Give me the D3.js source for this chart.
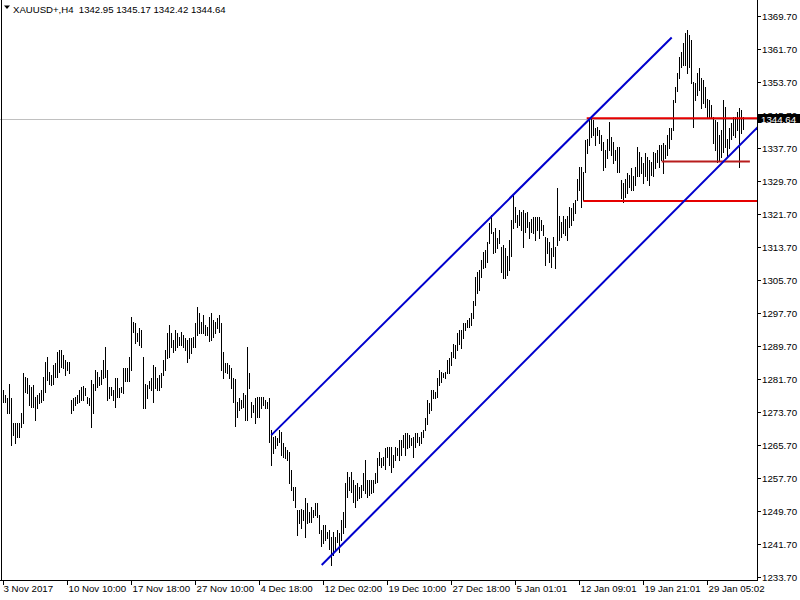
<!DOCTYPE html>
<html><head><meta charset="utf-8">
<script src="https://cdn.jsdelivr.net/npm/d3@7"></script>
<style>
html,body{margin:0;padding:0;background:#fff;}
svg{display:block;}
text{font-family:"Liberation Sans",Arial,sans-serif;}
</style>
</head><body><div id="chart"></div>
<script>
// ---------- data ----------
const symbol = "XAUUSD+,H4";
const lastBar = [1342.95, 1345.17, 1342.42, 1344.64]; // O H L C
const highs = [
1279.0,1277.8,1277.0,1280.6,1277.0,1271.0,1271.0,1271.0,1271.0,1273.4,
1283.1,1282.3,1281.9,1280.2,1279.8,1280.2,1277.4,1277.8,1278.2,1279.0,
1282.3,1285.9,1287.1,1283.5,1282.7,1285.1,1285.5,1288.3,1288.7,1288.7,
1287.5,1286.3,1285.9,1285.9,1276.6,1277.0,1277.4,1277.8,1279.0,1279.8,
1280.0,1279.4,1277.4,1277.0,1281.5,1280.6,1283.9,1283.5,1282.3,1283.9,
1286.3,1289.5,1283.9,1279.8,1279.8,1279.0,1281.9,1281.9,1279.4,1279.8,
1284.3,1284.3,1284.3,1287.1,1296.8,1295.6,1295.2,1292.8,1294.0,1293.6,
1287.1,1280.6,1280.2,1281.1,1281.9,1285.1,1284.7,1281.9,1282.7,1283.1,
1286.3,1288.7,1292.8,1294.8,1292.8,1291.2,1293.6,1292.8,1292.0,1293.2,
1292.4,1291.6,1291.2,1291.6,1291.6,1292.0,1295.2,1299.2,1297.6,1295.6,
1297.2,1294.8,1294.4,1296.8,1297.6,1296.0,1295.6,1296.4,1297.2,1295.2,
1288.3,1285.5,1285.5,1285.1,1284.3,1281.9,1281.6,1276.2,1277.0,1276.6,
1278.2,1277.8,1289.5,1283.1,1276.2,1275.4,1277.0,1277.4,1277.4,1277.4,
1277.4,1276.6,1276.2,1277.0,1269.3,1267.7,1268.0,1267.3,1269.3,1268.9,
1266.1,1265.3,1264.5,1264.1,1259.6,1255.6,1255.6,1249.9,1249.9,1250.3,
1249.9,1252.8,1251.6,1249.5,1250.7,1249.9,1251.6,1251.6,1248.7,1245.1,
1246.3,1246.3,1244.7,1245.1,1243.5,1244.7,1243.5,1245.1,1244.3,1247.5,
1249.5,1256.4,1259.2,1258.0,1259.2,1257.2,1256.0,1256.4,1255.6,1256.0,
1258.8,1262.1,1257.2,1257.2,1257.2,1257.2,1258.8,1262.5,1264.1,1262.5,
1262.9,1264.9,1265.3,1265.3,1265.3,1263.3,1265.3,1264.9,1266.9,1266.9,
1268.1,1268.5,1268.5,1268.1,1267.3,1267.7,1268.5,1268.5,1267.7,1268.9,
1269.3,1272.2,1276.6,1275.8,1279.0,1279.0,1278.6,1281.9,1283.9,1283.5,
1283.1,1283.5,1286.3,1286.7,1288.3,1290.3,1289.9,1292.8,1293.6,1293.6,
1295.2,1295.2,1296.0,1296.4,1297.6,1300.5,1306.5,1307.7,1308.1,1310.5,
1312.6,1313.0,1315.0,1319.4,1321.5,1317.4,1318.2,1315.8,1317.8,1313.8,
1314.2,1313.4,1311.4,1315.4,1320.2,1326.3,1323.5,1321.5,1322.7,1322.3,
1322.7,1321.9,1322.3,1319.8,1320.6,1321.0,1321.0,1321.0,1321.0,1320.2,
1319.0,1316.2,1315.8,1315.0,1313.4,1316.2,1313.8,1327.9,1321.1,1319.8,
1321.1,1320.6,1321.1,1323.5,1323.1,1324.3,1325.1,1330.3,1333.2,1333.2,
1332.0,1339.6,1340.0,1344.5,1345.3,1344.5,1342.5,1342.9,1342.1,1340.8,
1339.2,1337.2,1340.0,1344.1,1340.4,1339.2,1337.2,1338.0,1338.0,1329.9,
1329.1,1330.3,1331.6,1331.2,1332.8,1330.8,1333.2,1338.0,1336.8,1335.6,
1334.0,1336.4,1335.6,1334.8,1334.4,1336.8,1336.4,1337.2,1338.4,1338.4,
1338.8,1338.4,1340.8,1342.5,1342.5,1349.3,1352.6,1355.8,1359.8,1361.0,
1363.1,1365.5,1366.3,1365.1,1363.9,1353.8,1353.4,1355.8,1357.0,1354.6,
1354.2,1352.6,1349.7,1349.3,1348.1,1345.3,1344.5,1344.1,1340.8,1342.1,
1349.3,1347.7,1340.0,1342.5,1343.7,1345.3,1345.3,1346.5,1347.3,1346.9,
1345.17];
const lows = [
1276.2,1276.2,1273.4,1273.4,1265.7,1268.1,1266.1,1267.7,1267.7,1270.1,
1271.0,1278.6,1278.2,1275.4,1275.0,1275.0,1271.8,1274.6,1275.8,1276.2,
1276.6,1278.6,1281.5,1280.6,1280.2,1280.6,1282.3,1282.3,1283.5,1284.7,
1284.3,1282.7,1283.9,1283.1,1273.4,1274.2,1275.4,1275.8,1276.2,1276.6,
1276.6,1277.8,1275.8,1275.4,1270.1,1273.4,1279.0,1279.8,1280.2,1280.6,
1281.9,1282.3,1276.6,1277.0,1277.8,1276.6,1275.0,1277.4,1277.4,1278.6,
1278.2,1281.1,1281.1,1281.1,1283.9,1293.2,1290.4,1290.8,1289.9,1289.5,
1274.6,1274.6,1277.0,1279.4,1279.0,1276.2,1279.4,1279.0,1279.0,1279.8,
1282.7,1283.9,1286.7,1287.1,1289.5,1288.3,1288.7,1289.5,1289.9,1289.9,
1289.5,1288.7,1285.9,1286.7,1287.9,1289.5,1289.5,1292.4,1292.8,1292.8,
1292.8,1292.4,1292.4,1290.8,1291.2,1292.0,1292.8,1294.0,1293.2,1283.9,
1281.9,1283.5,1283.1,1281.9,1279.4,1276.2,1270.3,1272.6,1274.2,1274.6,
1275.0,1271.8,1271.8,1279.4,1272.6,1273.8,1271.0,1272.6,1272.6,1274.6,
1275.4,1274.6,1274.6,1266.5,1260.9,1263.7,1265.0,1265.7,1266.5,1263.3,
1262.9,1262.5,1262.1,1256.4,1254.8,1252.4,1250.7,1243.9,1246.7,1245.5,
1247.5,1243.5,1246.7,1247.1,1247.1,1248.3,1248.7,1248.3,1244.3,1241.1,
1241.9,1242.7,1243.1,1240.6,1236.6,1239.0,1240.6,1242.3,1239.8,1242.7,
1244.3,1245.9,1253.2,1254.8,1254.4,1252.0,1250.7,1252.4,1252.8,1253.2,
1254.8,1254.0,1253.2,1253.6,1254.0,1254.4,1256.4,1256.8,1260.9,1260.4,
1260.9,1260.0,1262.9,1260.9,1259.2,1260.4,1262.1,1263.3,1262.1,1263.3,
1265.3,1263.3,1264.9,1265.3,1265.7,1262.9,1265.3,1266.5,1265.7,1266.1,
1267.7,1269.3,1270.9,1273.4,1274.2,1277.0,1277.0,1277.4,1280.2,1281.0,
1282.3,1281.9,1283.1,1283.1,1285.1,1287.1,1286.7,1288.7,1290.3,1289.1,
1291.6,1293.6,1294.4,1294.4,1294.8,1296.4,1299.6,1302.5,1303.3,1306.5,
1308.5,1308.9,1310.1,1314.6,1317.0,1312.2,1312.6,1313.4,1314.6,1307.7,
1306.1,1306.1,1306.9,1308.1,1311.4,1318.2,1319.8,1318.6,1319.0,1317.8,
1313.8,1317.4,1318.6,1315.8,1317.4,1317.0,1315.4,1317.8,1315.8,1317.8,
1316.6,1309.3,1312.2,1310.1,1308.9,1311.4,1308.5,1314.2,1315.4,1316.2,
1317.0,1316.6,1315.4,1318.6,1319.0,1320.2,1321.9,1325.1,1327.5,1323.5,
1325.1,1332.0,1336.4,1338.4,1340.4,1340.8,1338.4,1340.8,1338.8,1337.2,
1332.4,1333.2,1335.2,1337.2,1336.0,1334.0,1334.8,1332.0,1332.0,1325.5,
1324.7,1325.9,1326.7,1328.3,1327.5,1327.5,1328.7,1330.8,1330.8,1331.6,
1329.1,1330.8,1330.0,1328.7,1331.2,1330.8,1332.8,1334.4,1333.2,1334.8,
1331.6,1335.2,1336.0,1337.6,1340.0,1342.1,1348.9,1351.4,1354.6,1357.4,
1357.8,1357.8,1355.8,1357.4,1353.4,1342.9,1349.3,1350.5,1351.8,1347.3,
1348.5,1347.7,1345.3,1345.3,1345.3,1338.8,1337.2,1334.4,1334.8,1335.6,
1336.8,1338.0,1335.6,1337.6,1340.0,1340.8,1340.4,1342.1,1333.2,1341.3,
1342.42];
const priceTicks = [1233.70,1241.70,1249.70,1257.70,1265.70,1273.70,1281.70,1289.70,
  1297.70,1305.70,1313.70,1321.70,1329.70,1337.70,1345.70,1353.70,1361.70,1369.70];
const timeLabels = ["3 Nov 2017","10 Nov 10:00","17 Nov 18:00","27 Nov 10:00","4 Dec 18:00",
  "12 Dec 02:00","19 Dec 10:00","27 Dec 18:00","5 Jan 01:01","12 Jan 09:01","19 Jan 21:01","29 Jan 05:02"];
const timeLabelBars = [0,32,64,96,128,160,192,224,256,288,320,352];
// trend channel: [barIndex, price]
const channelUpper = [[134.3,1268.1],[334.5,1364.5]];
const channelLower = [[159.5,1236.6],[377.8,1342.9]];
// horizontal levels: price, start bar, end bar (null = to right edge)
const levelPrices = [1344.9, 1334.4, 1324.85];
const levelStart  = [292, 329.5, 290.3];
const levelEnd    = [null, 373.6, null];

// ---------- drawing ----------
const W = 800, H = 600, plotR = 757, plotB = 580;
const svg = d3.select("#chart").append("svg").attr("width", W).attr("height", H);
svg.append("rect").attr("width", W).attr("height", H).attr("fill", "#fff");

const x = d3.scaleLinear().domain([0, highs.length - 1]).range([2.7, 742.7]);
const y = d3.scaleLinear().domain([1233.70, 1369.70]).range([577, 16]);
const px = i => Math.round(x(i)) + 0.5;

svg.append("clipPath").attr("id", "plot").append("rect")
  .attr("x", 0).attr("y", 0).attr("width", plotR).attr("height", plotB);

const g = svg.append("g").attr("clip-path", "url(#plot)");

// bid line
const close = lastBar[3];
g.append("line").attr("x1", 0).attr("x2", plotR)
  .attr("y1", Math.round(y(close)) + 0.5).attr("y2", Math.round(y(close)) + 0.5)
  .attr("stroke", "#c0c0c0").attr("stroke-width", 1);

// bars
g.append("g").selectAll("line").data(highs).join("line")
  .attr("x1", (d, i) => px(i)).attr("x2", (d, i) => px(i))
  .attr("y1", d => Math.round(y(d))).attr("y2", (d, i) => Math.round(y(lows[i])) + 1)
  .attr("stroke", "#000").attr("stroke-width", 1).attr("shape-rendering", "crispEdges");

// levels
const levelColors = ["#e60000", "#b81c1c", "#e60000"];
levelPrices.forEach((p, k) => {
  const x2 = levelEnd[k] == null ? plotR + 5 : x(levelEnd[k]);
  g.append("line").attr("x1", x(levelStart[k])).attr("x2", x2)
    .attr("y1", y(p)).attr("y2", y(p))
    .attr("stroke", levelColors[k]).attr("stroke-width", 2);
});

// channel lines
g.append("line")
  .attr("x1", x(channelUpper[0][0])).attr("y1", y(channelUpper[0][1]))
  .attr("x2", x(channelUpper[1][0])).attr("y2", y(channelUpper[1][1]))
  .attr("stroke", "#0000cd").attr("stroke-width", 2);
{
  const [a, b] = channelLower;
  const slope = (b[1] - a[1]) / (b[0] - a[0]);
  const endIdx = b[0] + 20;
  g.append("line")
    .attr("x1", x(a[0])).attr("y1", y(a[1]))
    .attr("x2", x(endIdx)).attr("y2", y(a[1] + slope * (endIdx - a[0])))
    .attr("stroke", "#0000cd").attr("stroke-width", 2);
}

// frame
svg.append("line").attr("x1", plotR + 0.5).attr("x2", plotR + 0.5).attr("y1", 0).attr("y2", plotB + 1)
  .attr("stroke", "#000");
svg.append("line").attr("x1", 0).attr("x2", plotR + 1).attr("y1", plotB + 0.5).attr("y2", plotB + 0.5)
  .attr("stroke", "#000");
svg.append("line").attr("x1", 1.5).attr("x2", 1.5).attr("y1", 0).attr("y2", plotB)
  .attr("stroke", "#000");

// right axis
const ra = svg.append("g");
priceTicks.forEach(p => {
  const yy = Math.round(y(p)) + 0.5;
  ra.append("line").attr("x1", plotR).attr("x2", plotR + 4).attr("y1", yy).attr("y2", yy).attr("stroke", "#000");
  ra.append("text").attr("x", 762).attr("y", yy + 3.5).attr("font-size", "9.7px").attr("fill", "#000")
    .text(p.toFixed(2));
});
// current price label
const cy = Math.round(y(close));
ra.append("rect").attr("x", plotR + 1).attr("y", cy - 5).attr("width", W - plotR - 1).attr("height", 9).attr("fill", "#000");
ra.append("text").attr("x", 761).attr("y", cy + 3.5).attr("font-size", "9.7px").attr("fill", "#fff")
  .text(close.toFixed(2));

// bottom axis
const ba = svg.append("g");
timeLabelBars.forEach((b, k) => {
  const xx = Math.round(x(b)) + 0.5;
  ba.append("line").attr("x1", xx).attr("x2", xx).attr("y1", plotB).attr("y2", plotB + 5).attr("stroke", "#000");
  ba.append("text").attr("x", xx + (k === 0 ? 0 : 1)).attr("y", 592).attr("font-size", "9.7px").attr("fill", "#000")
    .text(timeLabels[k]);
});

// header
svg.append("path").attr("d", "M4,5.5 L10,5.5 L7,9 Z").attr("fill", "#000");
svg.append("text").attr("x", 13).attr("y", 12.7).attr("font-size", "9.6px").attr("fill", "#000")
  .attr("xml:space", "preserve").style("white-space", "pre")
  .text(symbol + "  " + lastBar.map(v => v.toFixed(2)).join(" "));
</script>
</body></html>
